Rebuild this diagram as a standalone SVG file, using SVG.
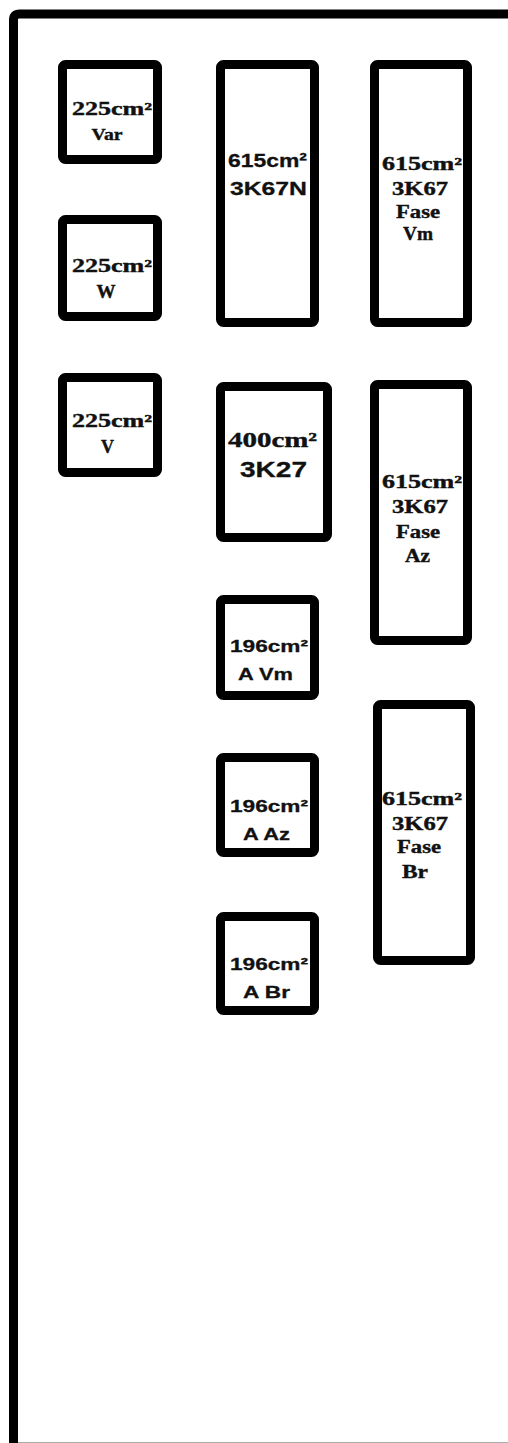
<svg xmlns="http://www.w3.org/2000/svg" width="508" height="1443" viewBox="0 0 508 1443">
<style>
.box{fill:#fff;stroke:#000;stroke-width:9}
.sr{font-family:"Liberation Serif","DejaVu Serif",serif;font-weight:bold;fill:#111;stroke:#111;stroke-width:0.4;text-anchor:middle}
.ss{font-family:"Liberation Sans","DejaVu Sans",sans-serif;font-weight:bold;fill:#111;stroke:#111;stroke-width:0.3;text-anchor:middle}
</style>
<rect width="508" height="1443" fill="#fff"/>
<g id="frame">
<path d="M13.5 1443 V20 Q13.5 14 19.5 14 H508" fill="none" stroke="#000" stroke-width="9"/>
<line x1="18" y1="1442.5" x2="508" y2="1442.5" stroke="#aaa" stroke-width="1"/>
</g>
<g id="n-var">
<rect class="box" x="62.5" y="64.5" width="95" height="95" rx="3"/>
<text class="sr" x="112" y="115" font-size="18" textLength="80" lengthAdjust="spacingAndGlyphs">225cm²</text>
<text class="sr" x="107" y="140" font-size="17" textLength="31" lengthAdjust="spacingAndGlyphs">Var</text>
</g>
<g id="n-w">
<rect class="box" x="62.5" y="219.5" width="95" height="97" rx="3"/>
<text class="sr" x="112" y="272" font-size="18" textLength="80" lengthAdjust="spacingAndGlyphs">225cm²</text>
<text class="sr" x="106" y="298" font-size="18" textLength="19" lengthAdjust="spacingAndGlyphs">W</text>
</g>
<g id="n-v">
<rect class="box" x="62.5" y="377.5" width="95" height="95" rx="3"/>
<text class="sr" x="112" y="427" font-size="18" textLength="80" lengthAdjust="spacingAndGlyphs">225cm²</text>
<text class="sr" x="107.5" y="453" font-size="18" textLength="13" lengthAdjust="spacingAndGlyphs">V</text>
</g>
<g id="n-3k67n">
<rect class="box" x="220.5" y="64.5" width="94" height="258" rx="3"/>
<text class="ss" x="267.5" y="167" font-size="19" textLength="79" lengthAdjust="spacingAndGlyphs">615cm²</text>
<text class="ss" x="268.5" y="195" font-size="19" textLength="77" lengthAdjust="spacingAndGlyphs">3K67N</text>
</g>
<g id="n-fase-vm">
<rect class="box" x="374.5" y="64.5" width="93" height="258" rx="3"/>
<text class="sr" x="422" y="170" font-size="18" textLength="80" lengthAdjust="spacingAndGlyphs">615cm²</text>
<text class="sr" x="420" y="195" font-size="18" textLength="56" lengthAdjust="spacingAndGlyphs">3K67</text>
<text class="sr" x="418" y="218" font-size="18" textLength="44" lengthAdjust="spacingAndGlyphs">Fase</text>
<text class="sr" x="418" y="240" font-size="18" textLength="30" lengthAdjust="spacingAndGlyphs">Vm</text>
</g>
<g id="n-3k27">
<rect class="box" x="220.5" y="386.5" width="107" height="151" rx="3"/>
<text class="sr" x="272.5" y="447" font-size="21" textLength="89" lengthAdjust="spacingAndGlyphs">400cm²</text>
<text class="ss" x="273.5" y="477" font-size="22" textLength="67" lengthAdjust="spacingAndGlyphs">3K27</text>
</g>
<g id="n-fase-az">
<rect class="box" x="374.5" y="384.5" width="93" height="256" rx="3"/>
<text class="sr" x="422" y="488" font-size="18" textLength="80" lengthAdjust="spacingAndGlyphs">615cm²</text>
<text class="sr" x="420" y="513" font-size="18" textLength="56" lengthAdjust="spacingAndGlyphs">3K67</text>
<text class="sr" x="418" y="538" font-size="18" textLength="44" lengthAdjust="spacingAndGlyphs">Fase</text>
<text class="sr" x="417.5" y="562" font-size="18" textLength="25" lengthAdjust="spacingAndGlyphs">Az</text>
</g>
<g id="n-a-vm">
<rect class="box" x="220.5" y="599.5" width="94" height="96" rx="3"/>
<text class="ss" x="269" y="652" font-size="16" textLength="78" lengthAdjust="spacingAndGlyphs">196cm²</text>
<text class="ss" x="265.5" y="680" font-size="17" textLength="55" lengthAdjust="spacingAndGlyphs">A Vm</text>
</g>
<g id="n-a-az">
<rect class="box" x="220.5" y="757.5" width="94" height="95" rx="3"/>
<text class="ss" x="269" y="812" font-size="16" textLength="78" lengthAdjust="spacingAndGlyphs">196cm²</text>
<text class="ss" x="266.5" y="840" font-size="17" textLength="47" lengthAdjust="spacingAndGlyphs">A Az</text>
</g>
<g id="n-a-br">
<rect class="box" x="220.5" y="916.5" width="94" height="94" rx="3"/>
<text class="ss" x="269" y="970" font-size="16" textLength="78" lengthAdjust="spacingAndGlyphs">196cm²</text>
<text class="ss" x="266.5" y="998" font-size="17" textLength="47" lengthAdjust="spacingAndGlyphs">A Br</text>
</g>
<g id="n-fase-br">
<rect class="box" x="377.5" y="704.5" width="93" height="256" rx="3"/>
<text class="sr" x="422" y="805" font-size="18" textLength="80" lengthAdjust="spacingAndGlyphs">615cm²</text>
<text class="sr" x="420" y="830" font-size="18" textLength="56" lengthAdjust="spacingAndGlyphs">3K67</text>
<text class="sr" x="419" y="853" font-size="18" textLength="44" lengthAdjust="spacingAndGlyphs">Fase</text>
<text class="sr" x="415" y="878" font-size="18" textLength="26" lengthAdjust="spacingAndGlyphs">Br</text>
</g>
<g id="connectors"/>
</svg>
